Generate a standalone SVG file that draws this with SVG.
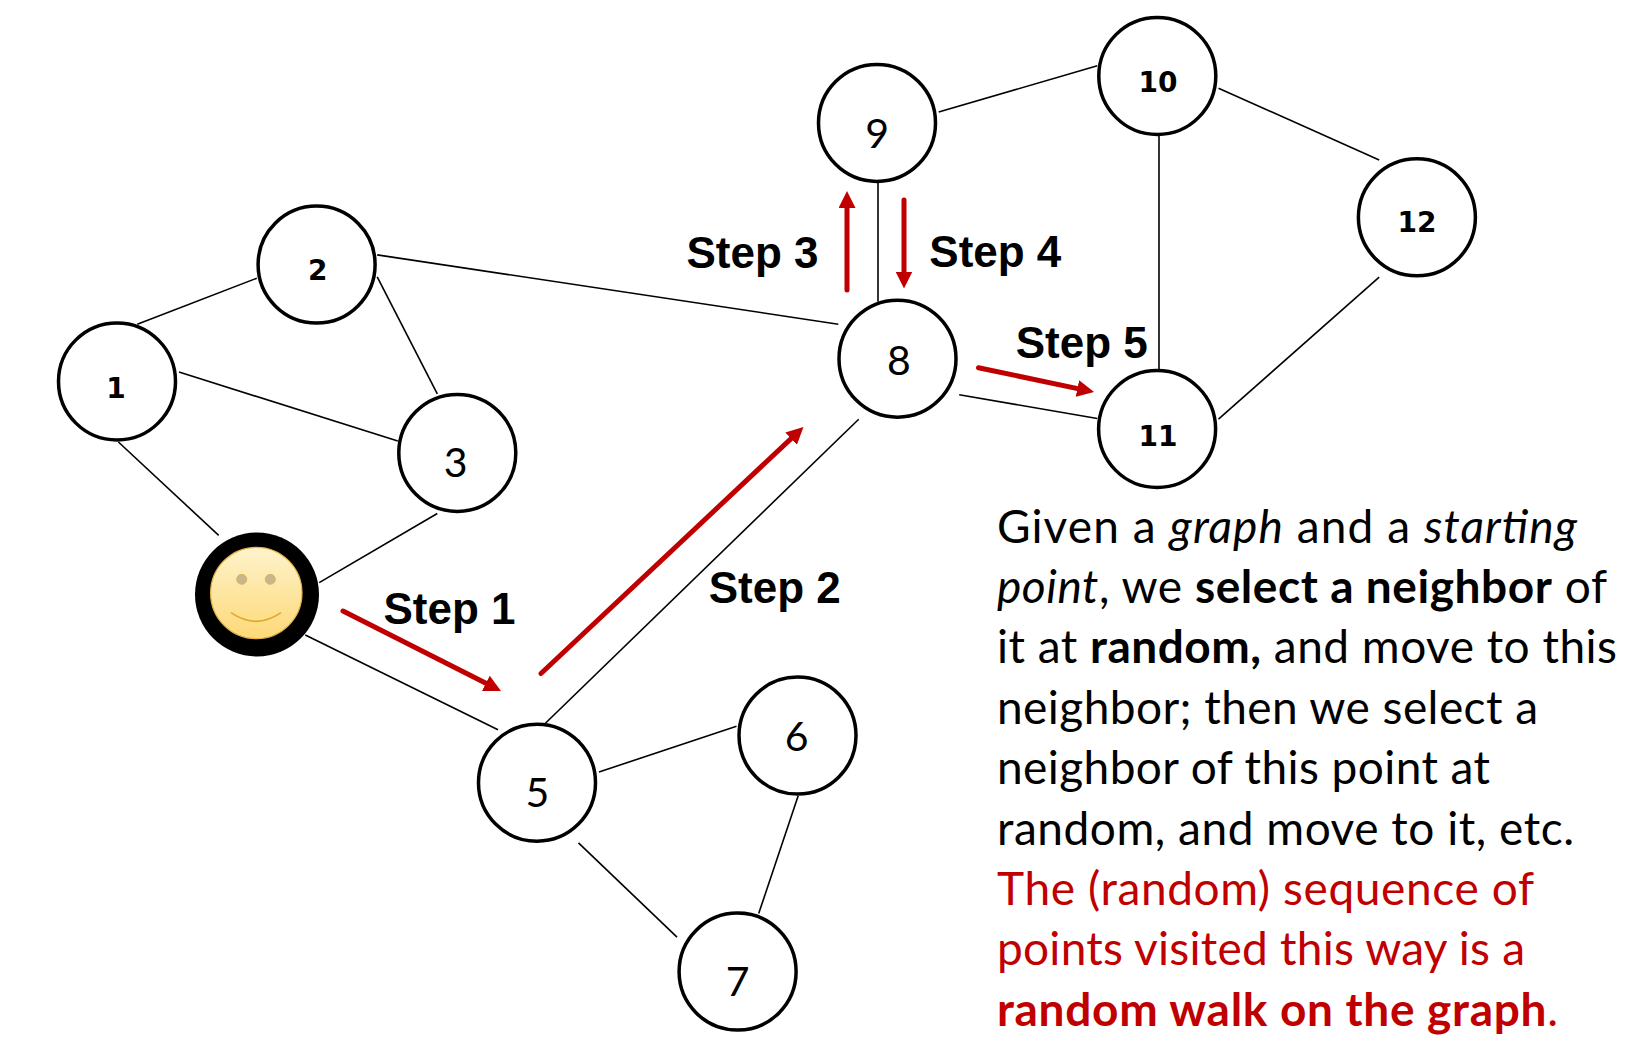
<svg xmlns="http://www.w3.org/2000/svg" width="1652" height="1056" viewBox="0 0 1652 1056">
<style>
.node{fill:#fff;stroke:#000;stroke-width:3.5}
.edge{stroke:#000;stroke-width:1.6;fill:none}
.walk{stroke:#c00000;stroke-width:5;stroke-linecap:round;fill:none;marker-end:url(#head)}
.lbl{font-family:Lato,"Liberation Sans",sans-serif;font-size:41px;fill:#000;text-anchor:middle}
.lbm{font-family:"DejaVu Sans",sans-serif;font-weight:bold;font-size:28px;fill:#000;text-anchor:middle}
.step{font-family:"Liberation Sans",Arial,sans-serif;font-weight:bold;font-size:44px;fill:#000}
.para{font-family:Lato,"Liberation Sans",sans-serif;font-size:46px;fill:#000}
.red{fill:#c00000}
.b{font-weight:bold}
.i{font-style:italic}
</style>
<defs>
<marker id="head" viewBox="0 0 10 10" refX="3" refY="5" markerWidth="3.4" markerHeight="3.4" orient="auto" markerUnits="strokeWidth">
<path d="M0,0 L10,5 L0,10 z" fill="#c00000"/>
</marker>
<linearGradient id="face" x1="0" y1="0" x2="0" y2="1">
<stop offset="0" stop-color="#fef3cb"/>
<stop offset="1" stop-color="#fdd978"/>
</linearGradient>
</defs>
<rect width="1652" height="1056" fill="#fff"/>
<g id="connectors">
<line class="edge" x1="137.3" y1="324.3" x2="256.8" y2="278.2"/>
<line class="edge" x1="179" y1="372" x2="397.8" y2="441.1"/>
<line class="edge" x1="118.4" y1="442" x2="218.7" y2="535.4"/>
<line class="edge" x1="377.2" y1="276.8" x2="437.3" y2="393.9"/>
<line class="edge" x1="377.2" y1="254.9" x2="838.3" y2="324.2"/>
<line class="edge" x1="437.3" y1="513.5" x2="319.2" y2="582.6"/>
<line class="edge" x1="305.3" y1="635" x2="498" y2="729.8"/>
<line class="edge" x1="540" y1="728.5" x2="858.7" y2="419.2"/>
<line class="edge" x1="599" y1="772" x2="736.5" y2="726.2"/>
<line class="edge" x1="578.5" y1="842.8" x2="677" y2="937.1"/>
<line class="edge" x1="798.2" y1="795.7" x2="758.7" y2="913.5"/>
<line class="edge" x1="878" y1="182.5" x2="878" y2="301.7"/>
<line class="edge" x1="959.2" y1="394.8" x2="1097.3" y2="418.5"/>
<line class="edge" x1="938.7" y1="112.1" x2="1097.3" y2="65.7"/>
<line class="edge" x1="1159" y1="134.7" x2="1159" y2="369.7"/>
<line class="edge" x1="1218.5" y1="88.2" x2="1379.2" y2="159.9"/>
<line class="edge" x1="1218.5" y1="419.2" x2="1379.2" y2="277.1"/>
<line class="walk" x1="343" y1="611" x2="490.4" y2="685.6"/>
<line class="walk" x1="541" y1="673.5" x2="794.8" y2="435.1"/>
<line class="walk" x1="847" y1="290" x2="847" y2="202.9"/>
<line class="walk" x1="904" y1="200" x2="904" y2="276.6"/>
<line class="walk" x1="978.5" y1="367.7" x2="1082.4" y2="389.6"/>
</g>
<g id="node-1"><circle class="node" cx="117" cy="381.5" r="58.5"/><text class="lbm" x="116" y="398.3">1</text></g>
<g id="node-2"><circle class="node" cx="316.6" cy="264.6" r="58.5"/><text class="lbm" x="317.7" y="280.1">2</text></g>
<g id="node-3"><circle class="node" cx="457.3" cy="452.9" r="58.5"/><text class="lbl" x="455.7" y="477.4">3</text></g>
<g id="node-start">
<circle cx="257" cy="594.5" r="62" fill="#000"/>
<circle cx="256.3" cy="593" r="45.7" fill="url(#face)" stroke="#e6b44a" stroke-width="1.2"/>
<circle cx="241.7" cy="579.3" r="5" fill="#c9b58e" stroke="#dcb35c" stroke-width="1"/>
<circle cx="270.3" cy="579.3" r="5" fill="#c9b58e" stroke="#dcb35c" stroke-width="1"/>
<path d="M231,612.7 Q256,630 281,612.7" fill="none" stroke="#e2a72e" stroke-width="1.6"/>
</g>
<g id="node-5"><circle class="node" cx="537" cy="782.7" r="58.5"/><text class="lbl" x="537.5" y="806.7">5</text></g>
<g id="node-6"><circle class="node" cx="797.5" cy="735.6" r="58.5"/><text class="lbl" x="796.6" y="750.7">6</text></g>
<g id="node-7"><circle class="node" cx="737.6" cy="971.6" r="58.5"/><text class="lbl" x="737.6" y="996">7</text></g>
<g id="node-8"><circle class="node" cx="897.5" cy="358.7" r="58.5"/><text class="lbl" x="898.8" y="375">8</text></g>
<g id="node-9"><circle class="node" cx="877" cy="122.9" r="58.5"/><text class="lbl" x="877.1" y="147.5">9</text></g>
<g id="node-10"><circle class="node" cx="1157.3" cy="76" r="58.5"/><text class="lbm" x="1158" y="91.7">10</text></g>
<g id="node-11"><circle class="node" cx="1157.1" cy="429" r="58.5"/><text class="lbm" x="1157.9" y="445.5">11</text></g>
<g id="node-12"><circle class="node" cx="1416.9" cy="217.3" r="58.5"/><text class="lbm" x="1417.1" y="232.3">12</text></g>
<g id="step-labels">
<text class="step" x="383.5" y="624">Step 1</text>
<text class="step" x="708.7" y="602.7">Step 2</text>
<text class="step" x="686.5" y="267.7">Step 3</text>
<text class="step" x="929.3" y="267.3">Step 4</text>
<text class="step" x="1015.7" y="357.6">Step 5</text>
</g>
<g id="description">
<text class="para" x="997" y="542.5" textLength="580" lengthAdjust="spacing">Given a <tspan class="i">graph</tspan> and a <tspan class="i">starting</tspan></text>
<text class="para" x="997" y="602.9" textLength="610" lengthAdjust="spacing"><tspan class="i">point</tspan>, we <tspan class="b">select a neighbor</tspan> of</text>
<text class="para" x="997" y="663.3" textLength="620" lengthAdjust="spacing">it at <tspan class="b">random,</tspan> and move to this</text>
<text class="para" x="997" y="723.7" textLength="541" lengthAdjust="spacing">neighbor; then we select a</text>
<text class="para" x="997" y="784.1" textLength="493" lengthAdjust="spacing">neighbor of this point at</text>
<text class="para" x="997" y="844.5" textLength="577" lengthAdjust="spacing">random, and move to it, etc.</text>
<text class="para red" x="997" y="904.9" textLength="537" lengthAdjust="spacing">The (random) sequence of</text>
<text class="para red" x="997" y="965.3" textLength="528" lengthAdjust="spacing">points visited this way is a</text>
<text class="para red" x="997" y="1025.7" textLength="561" lengthAdjust="spacing"><tspan class="b">random walk on the graph</tspan>.</text>
</g>
</svg>
